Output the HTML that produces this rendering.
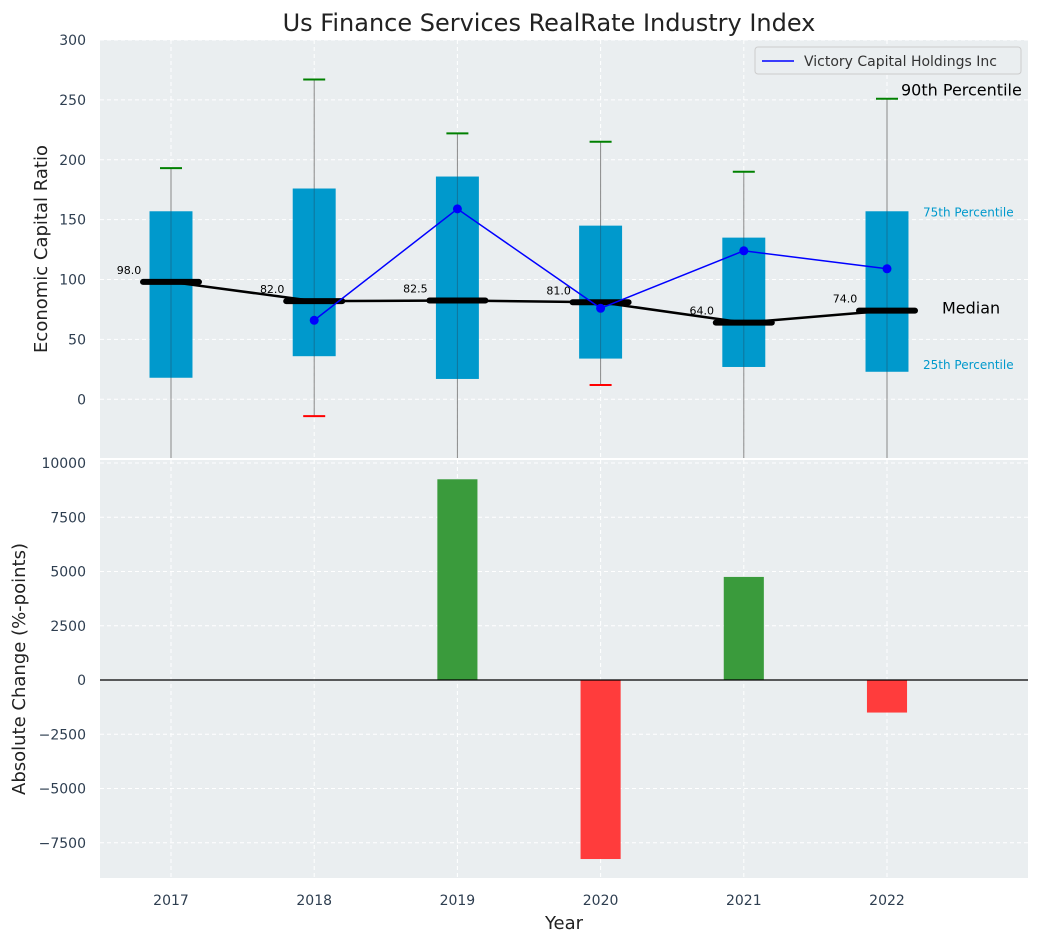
<!DOCTYPE html>
<html><head><meta charset="utf-8"><style>
body{margin:0;background:#fff;font-family:"Liberation Sans","DejaVu Sans",sans-serif}
svg text{font-family:"DejaVu Sans","Liberation Sans",sans-serif}
</style></head><body>
<svg id="c" width="1039" height="942" xmlns="http://www.w3.org/2000/svg"></svg>
<script>
const years=[2017,2018,2019,2020,2021,2022];
const q1=[18,36,17,34,27,23];
const q3=[157,176,186,145,135,157];
const med=[98,82,82.5,81,64,74];
const p90=[193,267,222,215,190,251];
const p10=[-60,-14,-60,12,-60,-60];
const victoryYears=[2018,2019,2020,2021,2022];
const victory=[66,159,76,124,109];
const change=[null,null,9250,-8250,4750,-1500];
const topTicks=[0,50,100,150,200,250,300];
const botTicks=[-7500,-5000,-2500,0,2500,5000,7500,10000];

const S=document.getElementById('c'),NS='http://www.w3.org/2000/svg';
function el(t,a,txt){const e=document.createElementNS(NS,t);for(const k in a)e.setAttribute(k,a[k]);if(txt!=null)e.textContent=txt;S.appendChild(e);return e;}
const L=100,R=1028;
const X=v=>171+(v-2017)*143.2;
const T0=40,T1=458,Y=v=>T0+(300-v)/349*(T1-T0);
const B0=460,B1=878,YB=v=>680-v*(217/10000);

let e;
e=el('rect',{x:L,y:T0,width:R-L,height:T1-T0,fill:'#eaeef0'});

e=el('rect',{x:L,y:B0,width:R-L,height:B1-B0,fill:'#eaeef0'});

years.forEach(y=>{
  el('line',{x1:X(y),x2:X(y),y1:T0,y2:T1,stroke:'#fff','stroke-dasharray':'4,3'});
  el('line',{x1:X(y),x2:X(y),y1:B0,y2:B1,stroke:'#fff','stroke-dasharray':'4,3'});
  e=el('text',{x:X(y),y:905,'text-anchor':'middle','font-size':14,fill:'#2e3e50'},y);
  
});
topTicks.forEach(t=>{
  el('line',{x1:L,x2:R,y1:Y(t),y2:Y(t),stroke:'#fff','stroke-dasharray':'4,3'});
  e=el('text',{x:86,y:Y(t)+5,'text-anchor':'end','font-size':14,fill:'#2e3e50'},t);
  
});
botTicks.forEach(t=>{
  el('line',{x1:L,x2:R,y1:YB(t),y2:YB(t),stroke:'#fff','stroke-dasharray':'4,3'});
  e=el('text',{x:86,y:YB(t)+5,'text-anchor':'end','font-size':14,fill:'#2e3e50'},t<0?'\u2212'+(-t):t);
  
});
const bw=143.2*0.3;
years.forEach((y,i)=>{
  const x=X(y);
  e=el('line',{x1:x,x2:x,y1:Y(p90[i]),y2:Math.min(T1,Y(p10[i])),stroke:'#888','stroke-width':1});
  
  e=el('rect',{x:x-bw/2,y:Y(q3[i]),width:bw,height:Y(q1[i])-Y(q3[i]),fill:'#0099cc'});
  
  el('line',{x1:x,x2:x,y1:Y(q3[i]),y2:Y(q1[i]),stroke:'#1a5c7a','stroke-width':1,opacity:0.6});
  e=el('line',{x1:x-11,x2:x+11,y1:Y(p90[i]),y2:Y(p90[i]),stroke:'green','stroke-width':2});
  
  if(Y(p10[i])<T1){e=el('line',{x1:x-11,x2:x+11,y1:Y(p10[i]),y2:Y(p10[i]),stroke:'red','stroke-width':2});
  }
});
e=el('polyline',{points:years.map((y,i)=>X(y)+','+Y(med[i])).join(' '),fill:'none',stroke:'#000','stroke-width':2.5});

years.forEach((y,i)=>{
  e=el('line',{x1:X(y)-28,x2:X(y)+28,y1:Y(med[i]),y2:Y(med[i]),stroke:'#000','stroke-width':6,'stroke-linecap':'round'});
  
  e=el('text',{x:X(y)-42,y:Y(med[i])-8,'text-anchor':'middle','font-size':11,fill:'#000'},med[i].toFixed(1));
  
});
e=el('polyline',{points:victoryYears.map((y,i)=>X(y)+','+Y(victory[i])).join(' '),fill:'none',stroke:'blue','stroke-width':1.5});

victoryYears.forEach((y,i)=>{e=el('circle',{cx:X(y),cy:Y(victory[i]),r:4.5,fill:'blue'});
  });
e=el('text',{x:901,y:Y(p90[5])-3,'font-size':16,fill:'#000'},'90th Percentile');
e=el('text',{x:923,y:Y(q3[5])+5,'font-size':12,fill:'#0099cc'},'75th Percentile');
e=el('text',{x:923,y:Y(q1[5])-3,'font-size':12,fill:'#0099cc'},'25th Percentile');
e=el('text',{x:942,y:Y(med[5])+3,'font-size':16,fill:'#000'},'Median');
e=el('rect',{x:755,y:47,width:266,height:27,fill:'#eaeef0',stroke:'#ccc',rx:3});

el('line',{x1:762,x2:794,y1:61,y2:61,stroke:'blue','stroke-width':1.5});
e=el('text',{x:804,y:66,'font-size':14,fill:'#333'},'Victory Capital Holdings Inc');
const barW=143.2*0.28;
years.forEach((y,i)=>{if(change[i]==null)return;const v=change[i];
  e=el('rect',{x:X(y)-barW/2,y:Math.min(YB(v),YB(0)),width:barW,height:Math.abs(YB(v)-YB(0)),fill:v>=0?'#3a9b3c':'#ff3c3c'});
  });
e=el('line',{x1:L,x2:R,y1:YB(0),y2:YB(0),stroke:'#000','stroke-width':1.2});

e=el('text',{x:549,y:31,'text-anchor':'middle','font-size':24,fill:'#222'},'Us Finance Services RealRate Industry Index');
e=el('text',{x:47,y:249,'text-anchor':'middle','font-size':18,fill:'#222',transform:'rotate(-90 47 249)'},'Economic Capital Ratio');
e=el('text',{x:25,y:669,'text-anchor':'middle','font-size':18,fill:'#222',transform:'rotate(-90 25 669)'},'Absolute Change (%-points)');
e=el('text',{x:564,y:929,'text-anchor':'middle','font-size':18,fill:'#222'},'Year');
</script>
</body></html>
